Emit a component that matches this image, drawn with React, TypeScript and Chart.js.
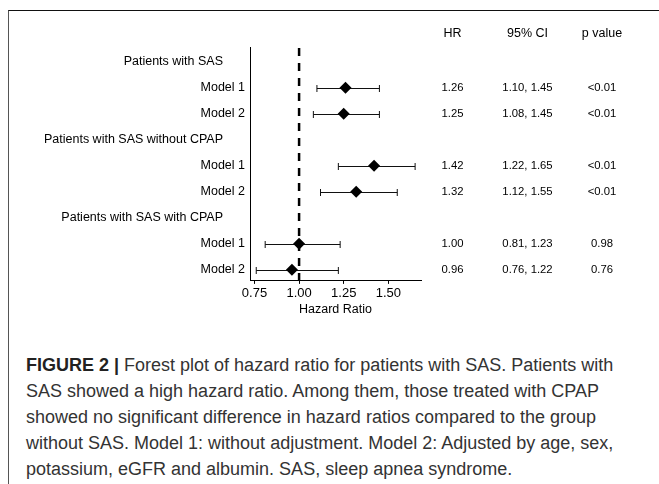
import React, { useEffect, useRef } from "react";
import { Chart, registerables } from "chart.js";

Chart.register(...registerables);

const rowLabels = [
  "Patients with SAS",
  "Model 1",
  "Model 2",
  "Patients with SAS without CPAP",
  "Model 1",
  "Model 2",
  "Patients with SAS with CPAP",
  "Model 1",
  "Model 2",
];
const isGroupRow = [true, false, false, true, false, false, true, false, false];

const hrRows = [1, 2, 4, 5, 7, 8];
const hrValues = [1.26, 1.25, 1.42, 1.32, 1.0, 0.96];
const ciLower = [1.1, 1.08, 1.22, 1.12, 0.81, 0.76];
const ciUpper = [1.45, 1.45, 1.65, 1.55, 1.23, 1.22];
const hrText = ["1.26", "1.25", "1.42", "1.32", "1.00", "0.96"];
const ciText = ["1.10, 1.45", "1.08, 1.45", "1.22, 1.65", "1.12, 1.55", "0.81, 1.23", "0.76, 1.22"];
const pText = ["<0.01", "<0.01", "<0.01", "<0.01", "0.98", "0.76"];
const tableHeaders = ["HR", "95% CI", "p value"];

const xTicks = [0.75, 1.0, 1.25, 1.5];
const xMin = 0.725;
const xMax = 1.683;
const refValue = 1.0;

const captionLines = [
  "SAS showed a high hazard ratio. Among them, those treated with CPAP",
  "showed no significant difference in hazard ratios compared to the group",
  "without SAS. Model 1: without adjustment. Model 2: Adjusted by age, sex,",
  "potassium, eGFR and albumin. SAS, sleep apnea syndrome.",
];

const FONT = "'Liberation Sans', Arial, Helvetica, sans-serif";

const forestPlugin = {
  id: "forest",
  beforeDatasetsDraw(chart: any) {
    const { ctx, chartArea, scales } = chart;
    const xs = scales.x;
    const ys = scales.y;
    ctx.save();
    const rx = xs.getPixelForValue(refValue);
    ctx.strokeStyle = "#000";
    ctx.lineWidth = 2.5;
    ctx.setLineDash([8, 7]);
    ctx.beginPath();
    ctx.moveTo(rx, chartArea.top + 1);
    ctx.lineTo(rx, chartArea.bottom);
    ctx.stroke();
    ctx.setLineDash([]);
    ctx.lineWidth = 1;
    ctx.strokeStyle = "#111";
    for (let i = 0; i < hrRows.length; i++) {
      const y = Math.round(ys.getPixelForValue(hrRows[i])) + 0.5;
      const x1 = xs.getPixelForValue(ciLower[i]);
      const x2 = xs.getPixelForValue(ciUpper[i]);
      ctx.beginPath();
      ctx.moveTo(x1, y);
      ctx.lineTo(x2, y);
      ctx.moveTo(x1, y - 3.5);
      ctx.lineTo(x1, y + 3.5);
      ctx.moveTo(x2, y - 3.5);
      ctx.lineTo(x2, y + 3.5);
      ctx.stroke();
    }
    ctx.restore();
  },
  afterDraw(chart: any) {
    const { ctx, chartArea, scales } = chart;
    const ys = scales.y;
    ctx.save();
    ctx.fillStyle = "#000";
    ctx.textBaseline = "middle";
    ctx.textAlign = "right";
    ctx.font = `12.5px ${FONT}`;
    for (let i = 0; i < rowLabels.length; i++) {
      const y = ys.getPixelForValue(i);
      const off = isGroupRow[i] ? 27 : 5;
      ctx.fillText(rowLabels[i], chartArea.left - off, y);
    }
    const cols = [452.5, 527.5, 602];
    ctx.textAlign = "center";
    const hy = chartArea.top - 13.5;
    tableHeaders.forEach((h, j) => ctx.fillText(h, cols[j], hy));
    ctx.font = `11.3px ${FONT}`;
    for (let i = 0; i < hrRows.length; i++) {
      const y = ys.getPixelForValue(hrRows[i]);
      ctx.fillText(hrText[i], cols[0], y);
      ctx.fillText(ciText[i], cols[1], y);
      ctx.fillText(pText[i], cols[2], y);
    }
    ctx.restore();
  },
};

function ForestChart() {
  const ref = useRef<HTMLCanvasElement | null>(null);
  useEffect(() => {
    if (!ref.current) return;
    const chart = new Chart(ref.current, {
      type: "scatter",
      data: {
        datasets: [
          {
            data: hrValues.map((v, i) => ({ x: v, y: hrRows[i] })),
            pointStyle: "rectRot",
            pointRadius: 6,
            pointBackgroundColor: "#000",
            pointBorderColor: "#000",
            pointBorderWidth: 0,
          },
        ],
      },
      options: {
        responsive: false,
        animation: false,
        events: [],
        layout: { padding: { left: 250, right: 238, top: 47, bottom: 0 } },
        plugins: { legend: { display: false }, tooltip: { enabled: false } },
        scales: {
          x: {
            type: "linear",
            min: xMin,
            max: xMax,
            afterBuildTicks: (axis: any) => {
              axis.ticks = xTicks.map((v) => ({ value: v }));
            },
            grid: {
              display: true,
              drawOnChartArea: false,
              drawTicks: true,
              tickLength: 3,
              color: "#000",
            },
            border: { display: true, color: "#000", width: 1 },
            ticks: {
              color: "#000",
              padding: 2,
              font: { family: FONT, size: 13 },
              callback: (v: any) => Number(v).toFixed(2),
            },
            title: {
              display: true,
              text: "Hazard Ratio",
              color: "#000",
              font: { family: FONT, size: 12.5, lineHeight: 1.0 },
              padding: { top: 0, bottom: 0 },
            },
          },
          y: {
            type: "linear",
            reverse: true,
            min: -0.57,
            max: 8.43,
            grid: { display: false, drawTicks: false },
            border: { display: true, color: "#000", width: 1 },
            ticks: { display: false },
          },
        },
      },
      plugins: [forestPlugin],
    } as any);
    return () => chart.destroy();
  }, []);
  return (
    <canvas
      ref={ref}
      width={659}
      height={316}
      style={{ position: "absolute", left: 0, top: 0, width: 659, height: 316 }}
    />
  );
}

export default function App() {
  return (
    <div
      style={{
        position: "fixed",
        left: 0,
        top: 0,
        width: 659,
        height: 484,
        background: "#fff",
        overflow: "hidden",
      }}
    >
      <div
        style={{
          position: "absolute",
          left: 8,
          top: 10,
          width: 700,
          height: 500,
          borderLeft: "1px solid #555",
          borderTop: "1px solid #111",
        }}
      />
      <ForestChart />
      <div
        style={{
          position: "absolute",
          left: 26,
          top: 351.5,
          fontFamily: FONT,
          fontSize: 18,
          lineHeight: "26px",
          color: "#333",
          whiteSpace: "nowrap",
        }}
      >
        <div>
          <span style={{ fontWeight: "bold", color: "#222" }}>FIGURE 2 |</span> Forest plot of hazard ratio for
          patients with SAS. Patients with
        </div>
        {captionLines.map((l, i) => (
          <div key={i}>{l}</div>
        ))}
      </div>
    </div>
  );
}
